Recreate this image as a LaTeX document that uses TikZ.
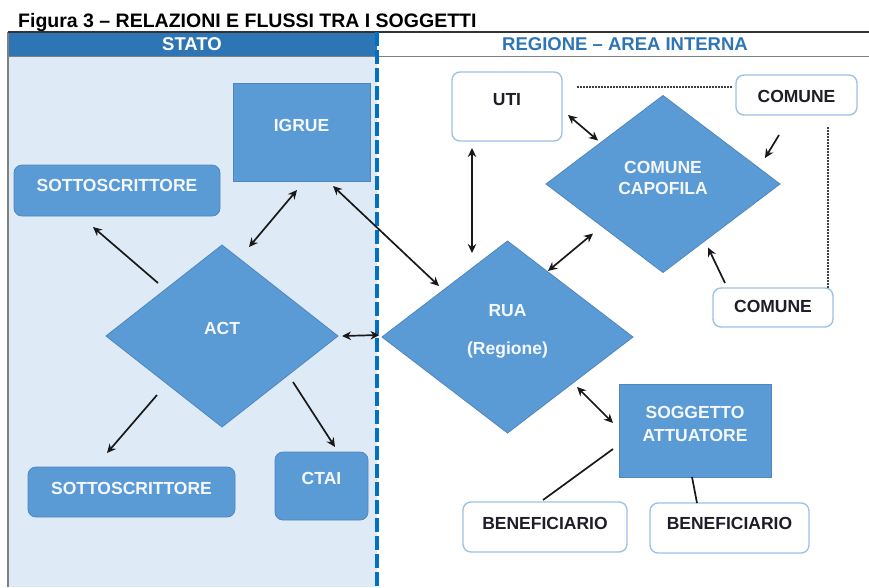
\documentclass[tikz,border=0pt]{standalone}
\usepackage{fontspec}
\setmainfont{Liberation Sans}
\usetikzlibrary{shapes.geometric,arrows.meta,calc}
\definecolor{nodeblue}{HTML}{5B9BD5}
\definecolor{nodeedge}{HTML}{4F86BF}
\definecolor{panelblue}{HTML}{DEEBF7}
\definecolor{headblue}{HTML}{2E75B6}
\definecolor{dashblue}{HTML}{0070C0}
\definecolor{lightedge}{HTML}{9DC3E6}
\definecolor{darktext}{HTML}{1E1E2A}
\definecolor{whitetext}{HTML}{F4F7FC}
\definecolor{linegray}{HTML}{808080}
\tikzset{
  lbl/.style={font=\bfseries\fontsize{17.5}{20}\selectfont, text height=12.5pt, text depth=0pt, inner sep=0pt},
  bluerect/.style={rectangle, draw=nodeedge, line width=0.8pt, fill=nodeblue, inner sep=0pt, outer sep=0pt},
  blueround/.style={rectangle, rounded corners=8pt, draw=nodeedge, line width=0.8pt, fill=nodeblue, inner sep=0pt, outer sep=0pt},
  whiteround/.style={rectangle, rounded corners=8pt, draw=lightedge, line width=1.4pt, fill=white, inner sep=0pt, outer sep=0pt},
  bluediamond/.style={diamond, draw=nodeedge, line width=0.8pt, fill=nodeblue, inner sep=0pt, outer sep=0pt},
  wl/.style={lbl, text=whitetext},
  dl/.style={lbl, text=darktext},
  conn/.style={draw=black!90, line width=1.7pt},
  biarrow/.style={conn, {Stealth[length=9pt,width=8.5pt]}-{Stealth[length=9pt,width=8.5pt]}},
  onearrow/.style={conn, -{Stealth[length=9pt,width=8.5pt]}},
  dotline/.style={draw=black!75, line width=1.1pt, dash pattern=on 1.8pt off 1.2pt},
}
\begin{document}
\begin{tikzpicture}[x=1pt,y=-1pt]
\useasboundingbox (0,0) rectangle (869,587);
\fill[white] (0,0) rectangle (869,587);

% title
\node[anchor=base west, inner sep=0pt, font=\bfseries\fontsize{19.5}{22}\selectfont, text=black] (title) at (18,27) {Figura 3 – RELAZIONI E FLUSSI TRA I SOGGETTI};

% panels
\fill[panelblue] (8,56) rectangle (377,587);
\fill[headblue] (8,32) rectangle (377,56);
\draw[linegray, line width=1.2pt] (8,32) -- (8,587);
\draw[black!80, line width=1.5pt] (8,32) -- (869,32);
\draw[linegray, line width=1pt] (8,56) -- (869,56);
\node[lbl, font=\bfseries\fontsize{18.5}{20}\selectfont, text=white] (stato) at (192,44) {STATO};
\node[lbl, font=\bfseries\fontsize{18.5}{20}\selectfont, text=headblue] (regione) at (625,44) {REGIONE – AREA INTERNA};
\draw[dashblue, line width=4pt, dash pattern=on 14pt off 4pt] (377,32) -- (377,587);

% nodes
\node[bluerect, minimum width=137pt, minimum height=98pt,
  label={[wl,yshift=7pt]center:IGRUE}] (igrue) at (301.5,132) {};
\node[blueround, minimum width=206pt, minimum height=51pt,
  label={[wl,yshift=5pt]center:SOTTOSCRITTORE}] (sott1) at (117,190.5) {};
\node[bluediamond, minimum width=232pt, minimum height=182pt,
  label={[wl,yshift=7.5pt]center:ACT}] (act) at (222,336) {};
\node[blueround, minimum width=207pt, minimum height=50pt,
  label={[wl,yshift=4pt]center:SOTTOSCRITTORE}] (sott2) at (131.5,492) {};
\node[blueround, minimum width=93pt, minimum height=68pt,
  label={[wl,yshift=7.5pt]center:CTAI}] (ctai) at (321.5,486) {};

\node[whiteround, minimum width=110pt, minimum height=69pt,
  label={[dl,yshift=7.5pt]center:UTI}] (uti) at (507,106.5) {};
\node[whiteround, minimum width=121pt, minimum height=40pt,
  label={[dl,yshift=-1.5pt]center:COMUNE}] (comune1) at (796.5,95) {};
\node[bluediamond, minimum width=234pt, minimum height=177pt,
  label={[wl,yshift=16.5pt]center:COMUNE},
  label={[wl,yshift=-4pt]center:CAPOFILA}] (capofila) at (663,184) {};
\node[whiteround, minimum width=120pt, minimum height=39pt,
  label={[dl,yshift=1.5pt]center:COMUNE}] (comune2) at (773,307.5) {};
\node[bluediamond, minimum width=251pt, minimum height=192pt,
  label={[wl,yshift=26.5pt]center:RUA},
  label={[wl,yshift=-11pt]center:(Regione)}] (rua) at (507.5,337) {};
\node[bluerect, minimum width=152pt, minimum height=93pt,
  label={[wl,yshift=18pt]center:SOGGETTO},
  label={[wl,yshift=-5pt]center:ATTUATORE}] (sogg) at (695,430.5) {};
\node[whiteround, minimum width=164pt, minimum height=50pt,
  label={[dl,yshift=4pt]center:BENEFICIARIO}] (benef1) at (545,527) {};
\node[whiteround, minimum width=159pt, minimum height=50pt,
  label={[dl,yshift=5pt]center:BENEFICIARIO}] (benef2) at (729.5,528) {};

% connectors (end points placed relative to the named nodes)
\draw[biarrow] ($(igrue.south)+(-4.5,9)$) -- ($(act.north)+(27,2)$);
\draw[biarrow] ($(igrue.south)+(31.5,5)$) -- ($(rua.north)+(-68.5,45)$);
\draw[onearrow] ($(act.north)+(-64,38)$) -- ($(sott1.south)+(-24,11)$);
\draw[biarrow] ($(act.east)+(4,0)$) -- ($(rua.west)+(-2.5,-2)$);
\draw[onearrow] ($(act.south)+(-65,-32)$) -- ($(sott2.north)+(-24.5,-14)$);
\draw[onearrow] ($(act.south)+(71,-45)$) -- ($(ctai.north)+(13.5,-5)$);

\draw[biarrow] ($(uti.south)+(-35,7)$) -- ($(rua.north)+(-35.5,12)$);
\draw[biarrow] ($(uti.east)+(6,8.5)$) -- ($(capofila.north)+(-65,45)$);
\draw[onearrow] ($(comune1.south)+(-17.5,20)$) -- ($(capofila.east)+(-15,-26)$);
\draw[onearrow] ($(comune2.north)+(-48,-5)$) -- ($(capofila.south)+(45,-25)$);
\draw[biarrow] ($(rua.north)+(40.5,30)$) -- ($(capofila.south)+(-70,-39)$);
\draw[biarrow] ($(rua.south)+(69.5,-46)$) -- ($(sogg.west)+(-6,-7.5)$);
\draw[conn] ($(sogg.west)+(-6,18.5)$) -- ($(benef1.north)+(-2,-2)$);
\draw[conn] ($(sogg.south)+(-3,0)$) -- ($(benef2.north)+(-32.5,0)$);

\draw[dotline] ($(uti.east)+(15,-19.5)$) -- ($(comune1.west)+(-4,-8)$);
\draw[dotline] ($(comune1.south)+(31.5,12)$) -- ($(comune2.north)+(55,0)$);
\end{tikzpicture}
\end{document}
